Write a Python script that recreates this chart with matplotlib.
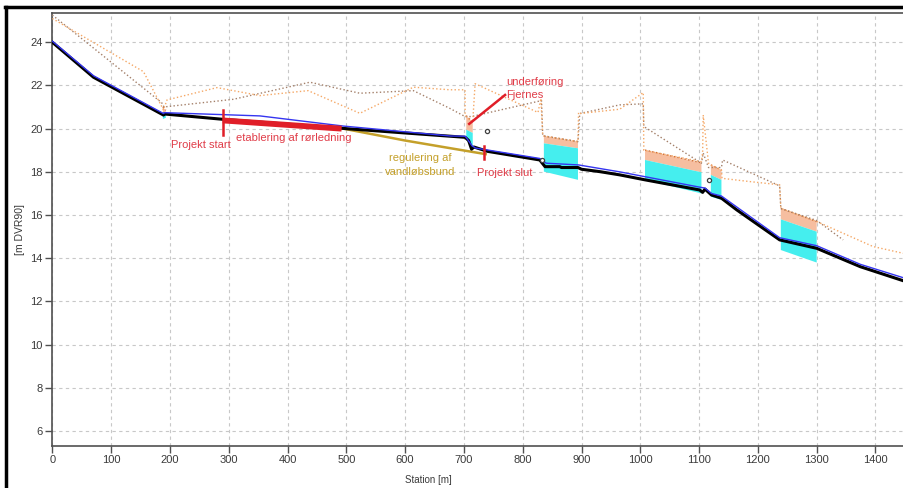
import matplotlib
matplotlib.use("Agg")
import matplotlib.pyplot as plt
from matplotlib.lines import Line2D

plt.rcParams['font.family'] = ['Liberation Sans', 'DejaVu Sans']

# --- længdeprofil (station [m], kote [m DVR90]) ---
bund_x = [0, 70, 189, 190, 291, 500, 600, 702, 708, 713, 717, 740, 829, 838, 863, 866, 894, 900,
          931, 965, 1008, 1101, 1106, 1110, 1121, 1138, 1164, 1237, 1300, 1374, 1447]
bund_z = [24.0, 22.38, 20.63, 20.68, 20.43, 20.0, 19.8, 19.6, 19.45, 19.05, 19.15, 18.95, 18.55, 18.24,
          18.24, 18.2, 18.2, 18.12, 18.01, 17.86, 17.63, 17.16, 17.05, 17.2, 16.93, 16.78, 16.24,
          14.85, 14.46, 13.61, 12.96]

vsp_x = [0, 70, 189, 191, 353, 495, 677, 702, 705, 714, 720, 829, 840, 895, 965, 1101, 1110, 1121,
         1138, 1237, 1300, 1374, 1447]
vsp_z = [24.05, 22.45, 20.7, 20.74, 20.59, 20.12, 19.66, 19.65, 19.55, 19.2, 19.1, 18.62, 18.4, 18.32,
         18.0, 17.29, 17.25, 17.0, 16.88, 14.95, 14.58, 13.72, 13.1]

terr_h_x = [0, 155, 189, 195, 280, 353, 435, 523, 614, 676, 702, 702, 715, 719, 826, 831, 834, 836, 894,
            895, 897, 965, 1005, 1006, 1104, 1106, 1107, 1116, 1120, 1138, 1139, 1186, 1237, 1239, 1300,
            1396, 1447]
terr_h_z = [25.1, 22.64, 20.87, 21.33, 21.9, 21.53, 21.76, 20.71, 21.92, 21.8, 21.8, 20.6, 20.3, 22.08,
            20.75, 21.4, 19.7, 19.66, 19.4, 20.75, 20.7, 20.9, 21.67, 19.0, 18.47, 18.9, 20.63, 18.4,
            18.32, 18.09, 17.7, 17.55, 17.4, 16.31, 15.7, 14.54, 14.23]

terr_v_x = [0, 186, 190, 195, 308, 438, 523, 614, 676, 702, 713, 832, 834, 836, 894, 897, 965, 1005,
            1006, 1104, 1107, 1116, 1138, 1140, 1237, 1239, 1300, 1345]
terr_v_z = [25.26, 21.2, 21.0, 21.02, 21.36, 22.15, 21.64, 21.76, 20.94, 20.56, 20.56, 21.3, 19.7, 19.66,
            19.4, 20.7, 21.1, 21.15, 20.1, 18.4, 18.87, 18.2, 18.2, 18.55, 17.35, 16.3, 15.75, 14.85]

# bygværker (rør/broer)
byg_x0 = [188, 704, 836, 1008, 1120, 1239]
byg_x1 = [193, 715, 894, 1104, 1138, 1300]
top_z0 = [21.0, 20.6, 19.66, 19.01, 18.32, 16.31]
top_z1 = [20.85, 20.3, 19.40, 18.42, 18.09, 15.70]
mid_z0 = [20.75, 19.95, 19.32, 18.55, 17.86, 15.80]
mid_z1 = [20.70, 19.80, 19.09, 17.98, 17.63, 15.23]
bot_z0 = [20.45, 19.50, 18.01, 17.63, 16.85, 14.38]
bot_z1 = [20.50, 19.00, 17.63, 17.00, 16.70, 13.80]

ror_x = [290, 492]
ror_z = [20.38, 20.0]
reg_x = [495, 600, 680, 737]
reg_z = [20.0, 19.45, 19.08, 18.82]
pkt_x = [739, 833, 1117]
pkt_z = [19.89, 18.55, 17.62]

xticks = list(range(0, 1500, 100))
yticks = list(range(6, 26, 2))

fig = plt.figure(figsize=(9.04, 4.88), dpi=100)
ax = fig.add_axes([0.0579, 0.0867, 0.9421, 0.886])

ax.set_xlim(0, 1448.5)
ax.set_ylim(5.32, 25.34)
ax.set_xticks(xticks)
ax.set_yticks(yticks)
ax.grid(True, color='#c8c8c8', linestyle=(0, (3, 3)), linewidth=0.8)
ax.set_axisbelow(True)

for i in range(len(byg_x0)):
    xs = [byg_x0[i], byg_x1[i]]
    ax.fill_between(xs, [mid_z0[i], mid_z1[i]], [top_z0[i], top_z1[i]],
                    facecolor='#f6bea0', edgecolor='none', zorder=2)
    ax.plot(xs, [top_z0[i], top_z1[i]], color='#d0703a', lw=1, ls=':', zorder=3)
    ax.fill_between(xs, [bot_z0[i], bot_z1[i]], [mid_z0[i], mid_z1[i]],
                    facecolor='#45eeee', edgecolor='none', zorder=2)

ax.plot(terr_v_x, terr_v_z, color='#a4806a', lw=1, ls=':', zorder=3)
ax.plot(terr_h_x, terr_h_z, color='#f5a866', lw=1, ls=':', zorder=3)
ax.plot(reg_x, reg_z, color='#c4a02a', lw=1.8, zorder=4)
ax.plot(bund_x, bund_z, color='black', lw=2.2, zorder=5)
ax.plot(vsp_x, vsp_z, color='#3535f0', lw=1, zorder=6)
ax.plot(ror_x, ror_z, color='#e01e28', lw=4.2, solid_capstyle='butt', zorder=7)
ax.plot(pkt_x, pkt_z, ls='none', marker='o', ms=3, mfc='white', mec='#404040', mew=0.9, zorder=8)

# annoteringer
rod = '#e03c48'
ax.plot([290, 290], [20.87, 19.7], color='#e01e28', lw=1.8, zorder=8)
ax.plot([735, 735], [19.2, 18.58], color='#e01e28', lw=1.8, zorder=8)
ax.plot([709, 770], [20.22, 21.56], color='#e01e28', lw=1.8, zorder=8)
ax.text(202, 19.25, 'Projekt start', color=rod, fontsize=8, ha='left', va='center')
ax.text(312, 19.58, 'etablering af rørledning', color=rod, fontsize=8, ha='left', va='center')
ax.text(625, 18.31, 'regulering af\nvandløbsbund', color='#c4a02a', fontsize=8,
        ha='center', va='center', linespacing=1.45)
ax.text(722, 17.96, 'Projekt slut', color=rod, fontsize=8, ha='left', va='center')
ax.text(772, 21.86, 'underføring\nFjernes', color=rod, fontsize=8, ha='left', va='center',
        linespacing=1.45)

for s in ['left', 'bottom', 'top']:
    ax.spines[s].set_color('#505050')
    ax.spines[s].set_linewidth(1.2)
ax.spines['right'].set_visible(False)
ax.tick_params(direction='out', length=5, width=1, color='#505050', labelsize=8,
               labelcolor='#3a3a3a', pad=2)

ax.set_xlabel('Station [m]', fontsize=7, color='#3a3a3a')
ax.xaxis.set_label_coords((428 - 52.3) / (904 - 52.3), -0.068)
ax.set_ylabel('[m DVR90]', fontsize=7.5, color='#3a3a3a')
ax.yaxis.set_label_coords(-0.032, 0.5)

# sort ramme fra skærmbilledet
fig.add_artist(Line2D([6.5 / 904, 6.5 / 904], [0, 1 - 6.5 / 488], color='black', lw=2.5,
                      transform=fig.transFigure))
fig.add_artist(Line2D([5.3 / 904, 1], [1 - 6.5 / 488, 1 - 6.5 / 488], color='black', lw=2.5,
                      transform=fig.transFigure))

fig.savefig('out.png', dpi=100)
